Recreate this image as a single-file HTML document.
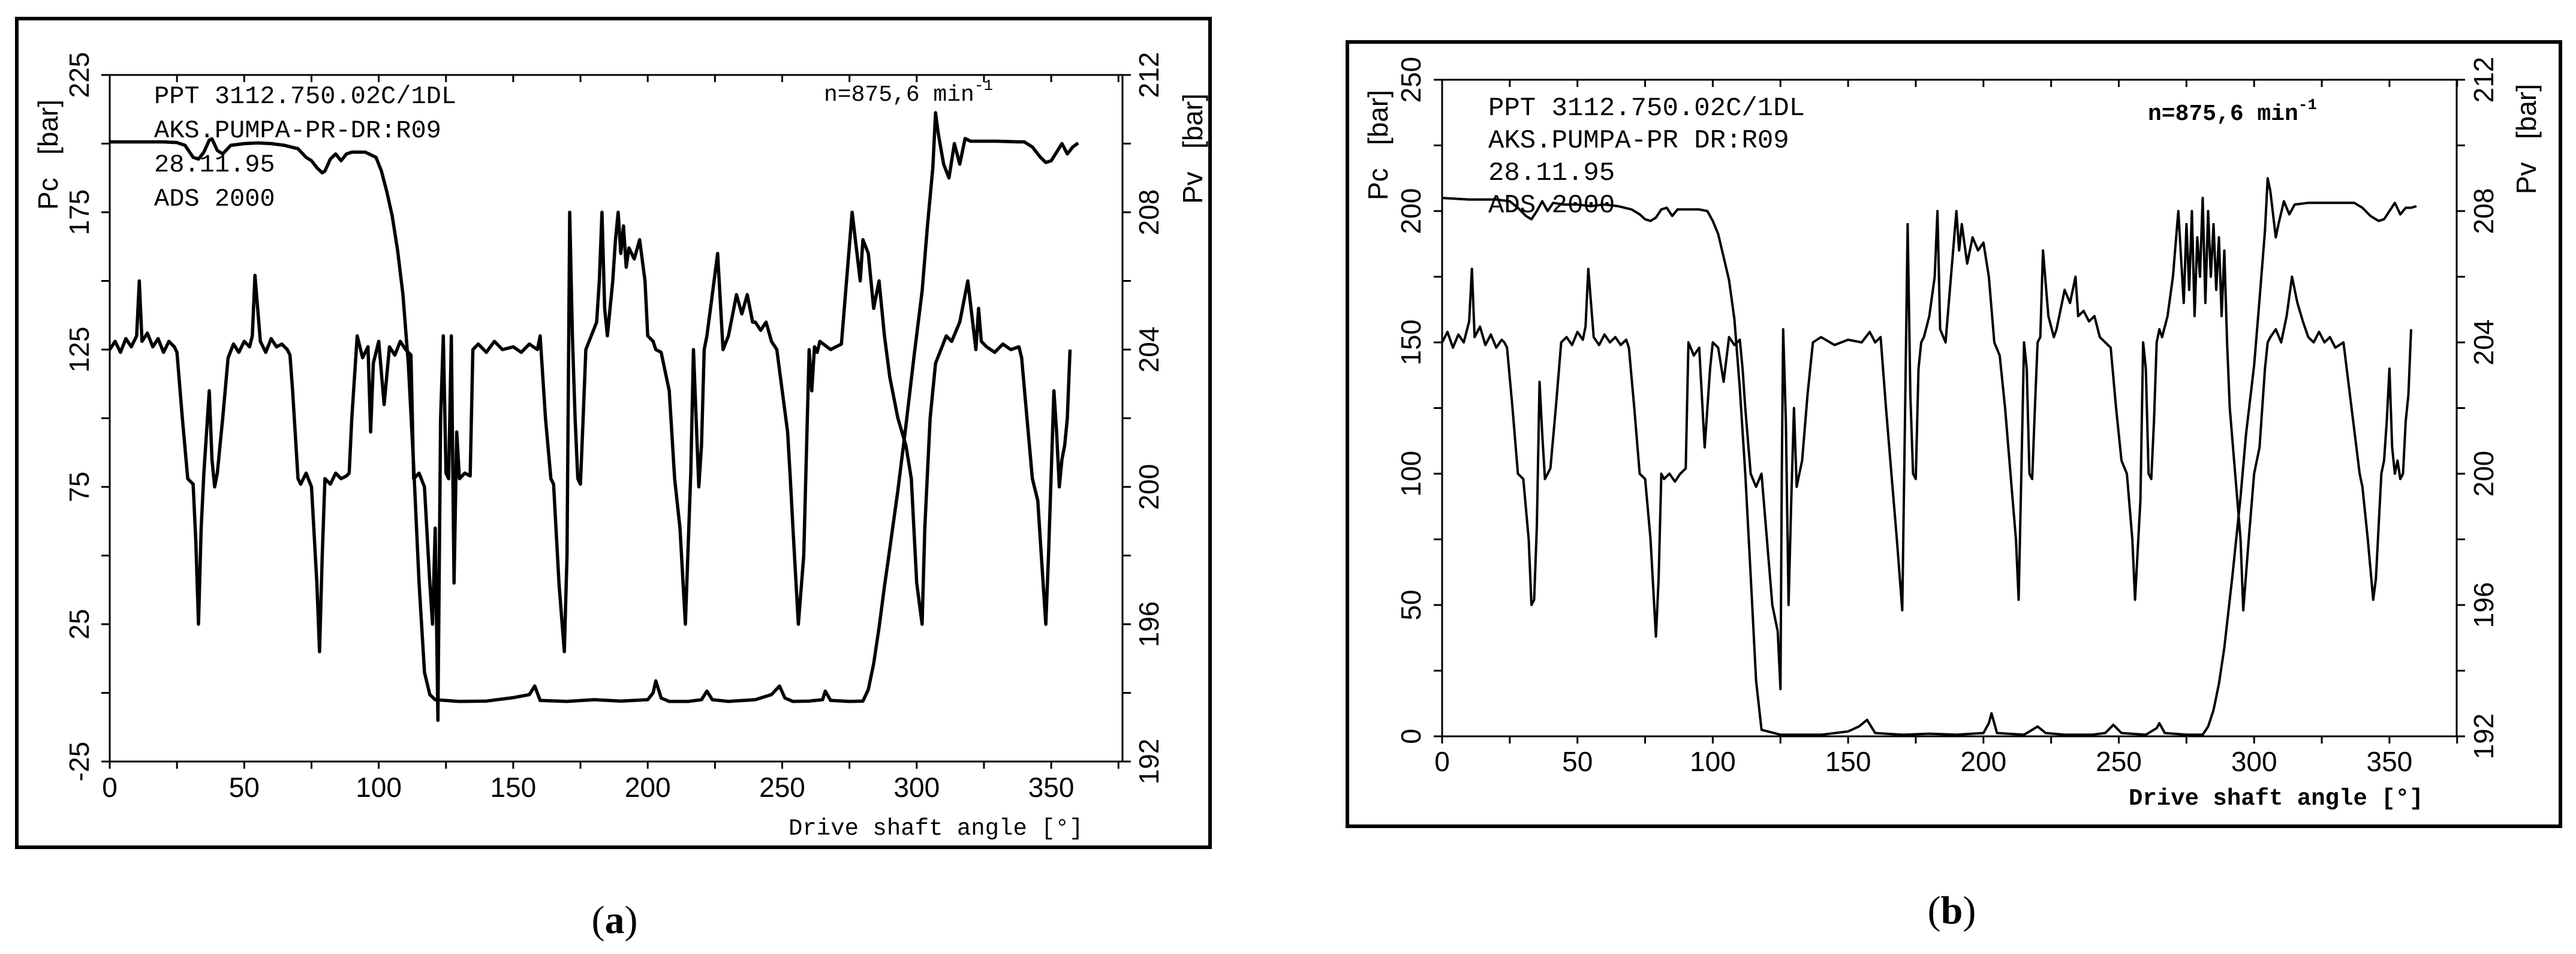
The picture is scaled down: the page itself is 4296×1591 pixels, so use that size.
<!DOCTYPE html>
<html><head><meta charset="utf-8"><title>Pc and Pv vs drive shaft angle</title>
<style>
html,body{margin:0;padding:0;background:#fff;}
svg{display:block;}
</style></head>
<body>
<svg id="fig" xmlns="http://www.w3.org/2000/svg" width="4296" height="1591" viewBox="0 0 4296 1591">
<rect x="0" y="0" width="4296" height="1591" fill="#fff"/>
</svg>
<script>
// ---- Panel (a) data ----
const aPcAngles = [0,2,4,6,8,10,11,12,14,16,18,20,22,24,25,27,29,31,32,33,34,35,36,37,38,39,40,42,44,46,48,50,52,53,54,56,58,60,62,64,66,67,68,70,71,73,75,77,78,79,80,82,84,86,88,89,90,92,94,96,97,98,100,102,104,106,108,110,112,113,115,117,119,120,121,122,123,124,125,126,127,128,129,130,132,134,135,137,140,143,146,150,153,156,159,160,162,164,165,167,169,170,171,172,173,174,175,176,177,179,181,182,183,184,185,186,187,188,189,190,191,192,193,195,197,199,200,202,203,205,208,210,212,214,216,217,218,219,220,221,222,224,226,228,230,232,233,235,237,239,240,242,244,246,248,250,252,253,254,256,258,260,261,262,263,264,268,272,276,279,280,282,284,286,288,290,293,296,298,300,302,303,304,305,307,309,311,313,316,319,322,323,324,326,329,332,335,338,339,341,343,345,347,348,349,350,351,352,353,354,355,356,357,358,359.5];
const aPcValues = [125,128,124,129,126,130,150,128,131,126,129,124,128,126,124,100,78,76,55,25,60,80,95,110,85,75,80,100,122,127,124,128,126,130,152,128,124,129,126,127,125,123,110,78,76,80,75,40,15,50,78,76,80,78,79,80,100,130,122,126,95,120,128,105,126,123,128,125,123,78,80,75,40,25,60,-10,100,130,80,78,130,40,95,78,80,79,125,127,124,128,125,126,124,127,125,130,100,78,76,40,15,50,175,130,100,78,76,100,125,130,135,150,175,140,130,140,150,165,175,160,170,155,162,158,165,150,130,128,125,124,110,78,60,25,80,125,100,75,90,125,130,145,160,125,130,140,145,138,145,135,135,132,135,128,125,110,95,78,60,25,50,125,110,126,124,128,125,127,175,150,165,160,140,150,130,115,100,90,78,40,25,60,80,100,120,125,130,128,135,150,125,140,128,126,124,127,125,126,122,100,78,70,40,25,50,80,110,95,75,85,90,100,125];
const aPvAngles = [0,10,20,25,28,31,33,35,37,38,40,42,45,50,55,60,65,70,73,75,77,79,80,82,84,86,88,90,95,99,101,103,105,107,109,111,113,115,117,119,121,130,140,150,156,158,160,170,180,190,200,202,203,205,208,215,220,222,224,230,240,246,249,251,254,260,265,266,268,275,280,282,284,286,288,290,293,296,299,302,304,306,307,308,310,312,314,316,318,320,330,338,340,343,346,348,350,352,354,356,358,360];
const aPvValues = [210.05,210.05,210.05,210.03,209.95,209.6,209.55,209.75,210.1,210.14,209.8,209.7,209.95,210.0,210.02,210.0,209.95,209.85,209.6,209.5,209.3,209.15,209.2,209.55,209.7,209.5,209.7,209.75,209.75,209.6,209.2,208.6,207.9,206.9,205.6,203.6,200.6,197.2,194.6,193.95,193.8,193.75,193.76,193.86,193.95,194.2,193.78,193.75,193.8,193.76,193.8,194.0,194.35,193.85,193.75,193.75,193.8,194.05,193.8,193.75,193.8,193.95,194.2,193.85,193.75,193.76,193.8,194.05,193.78,193.75,193.76,194.1,194.85,195.9,197.1,198.2,199.9,201.8,203.8,205.7,207.6,209.3,210.9,210.3,209.4,209.0,210.0,209.4,210.15,210.07,210.07,210.05,210.05,209.9,209.6,209.45,209.5,209.75,210.0,209.7,209.9,210.02];

// ---- Panel (b) data ----
const bPcAngles = [0,2,4,6,8,10,11,12,14,16,18,20,22,23,24,26,28,30,32,33,34,35,36,37,38,39,40,42,44,46,48,50,52,53,54,56,58,60,62,64,66,68,69,71,73,75,77,79,80,81,82,84,86,88,90,91,93,95,97,99,100,102,104,106,108,110,111,112,114,116,118,120,122,124,125,125.5,126,127,128,129,130,131,132,133,135,137,140,145,150,155,158,160,162,164,166,168,170,171,172,173,174,175,176,177,178,180,182,183,184,186,188,190,191,192,194,196,198,200,202,204,206,208,210,212,213,214,215,216,217,218,219,220,221,222,224,226,227,228,230,232,234,235,237,239,241,243,245,247,249,251,253,255,256,258,259,260,261,262,263,264,265,266,268,270,272,274,275,276,277,278,279,280,281,282,283,284,285,286,287,288,289,290,291,293,295,296,298,300,302,304,305,306,308,310,312,314,316,318,320,322,324,326,328,330,333,336,339,340,342,344,345,347,348,349,350,351,352,353,354,355,356,357,358,359,360];
const bPcValues = [150,154,148,153,150,158,178,152,156,149,153,148,151,150,148,125,100,98,75,50,52,80,135,115,98,100,102,125,150,152,149,154,151,156,178,152,149,153,150,152,149,151,148,125,100,98,75,38,60,100,98,100,97,100,102,150,145,148,110,140,150,148,135,152,149,151,140,125,100,95,100,75,50,40,18,100,155,120,50,90,125,95,100,105,130,150,152,149,151,150,154,150,152,125,100,75,48,120,195,130,100,98,140,150,152,160,175,200,155,150,175,200,185,195,180,190,185,188,175,150,145,125,100,75,52,100,150,140,100,98,125,150,152,185,160,152,155,160,170,165,175,160,162,158,160,152,150,148,125,105,100,75,52,90,150,140,100,98,120,150,155,152,160,175,200,165,195,170,200,160,190,175,205,165,200,175,195,170,190,160,185,150,125,100,75,48,75,100,110,140,150,152,155,150,160,175,165,158,152,150,154,150,152,148,150,125,100,95,75,52,60,100,105,120,140,110,100,105,98,100,120,130,155];
const bPvAngles = [0,10,20,25,28,31,33,35,37,39,41,45,50,55,60,65,70,73,75,77,79,81,83,85,87,89,92,95,98,100,102,104,106,108,110,112,114,116,118,125,140,150,154,157,160,170,180,190,200,202,203,205,215,218,220,223,230,240,245,248,251,260,264,265,267,275,281,283,285,287,289,292,295,297,300,302,304,305,306,308,309,311,313,315,320,330,337,340,343,346,348,350,352,354,356,358,360];
const bPvValues = [208.4,208.35,208.35,208.3,208.1,207.85,207.75,208.0,208.3,208.0,208.25,208.2,208.2,208.15,208.2,208.15,208.05,207.9,207.75,207.7,207.8,208.05,208.1,207.85,208.05,208.05,208.05,208.05,208.0,207.7,207.3,206.6,205.9,204.7,202.6,200.0,196.9,193.7,192.2,192.05,192.05,192.15,192.3,192.5,192.1,192.05,192.08,192.05,192.1,192.4,192.7,192.1,192.05,192.2,192.3,192.1,192.05,192.05,192.1,192.35,192.1,192.05,192.25,192.4,192.1,192.05,192.05,192.3,192.8,193.6,194.7,196.9,199.3,201.2,203.3,205.3,207.4,209.0,208.6,207.2,207.6,208.3,207.9,208.2,208.25,208.25,208.25,208.1,207.85,207.7,207.75,208.0,208.25,207.9,208.1,208.1,208.15];

// ---- Tick labels ----
const xTickLabels = ["0","50","100","150","200","250","300","350"];
const aPcTickLabels = ["-25","25","75","125","175","225"];
const bPcTickLabels = ["0","50","100","150","200","250"];
const pvTickLabels = ["192","196","200","204","208","212"];

const NS = "http://www.w3.org/2000/svg";
const svg = document.getElementById('fig');
function mk(tag, attrs, parent){
  const e = document.createElementNS(NS, tag);
  for (const k in attrs) e.setAttribute(k, attrs[k]);
  (parent||svg).appendChild(e);
  return e;
}

function drawPanel(P){
  const g = mk('g', {});
  
  
  const xS = d => P.x0 + d * P.pxPerDeg;
  const yPc = v => P.bottom - (v - P.pcMin) / (P.pcMax - P.pcMin) * (P.bottom - P.top);
  const yPv = v => P.bottom - (v - 192) / 20 * (P.bottom - P.top);

  const frame = mk('rect', {x:P.fx, y:P.fy, width:P.fw, height:P.fh, fill:'none', stroke:'#000', 'stroke-width':P.fsw}, g);
  
  

  const axes = mk('path', {d:`M${P.x0} ${P.top} H${P.xr} V${P.bottom} H${P.x0} Z`, fill:'none', stroke:'#000', 'stroke-width':P.asw}, g);
  
  

  let td = '';
  for (let d = 0; d <= 375; d += 25){
    const x = xS(d);
    if (x > P.xr + 1) break;
    td += `M${x} ${P.bottom} v12 M${x} ${P.top} v12 `;
  }
  for (let i = 0; i <= 10; i++){
    const y = P.top + i * (P.bottom - P.top) / 10;
    td += `M${P.x0} ${y} h-14 M${P.xr} ${y} h14 `;
  }
  const ticks = mk('path', {d:td, stroke:'#000', 'stroke-width':3, fill:'none'}, g);
  
  

  xTickLabels.forEach((t, i) => {
    const el = mk('text', {x:xS(i*50), y:P.xly, 'text-anchor':'middle', 'font-family':'Liberation Sans, sans-serif', 'font-size':46}, g);
    el.textContent = t;
    
    
  });
  P.pcLabels.forEach((t, i) => {
    const y = yPc(P.pcMin + i * P.pcStep);
    const el = mk('text', {x:0, y:0, 'text-anchor':'middle', 'dominant-baseline':'central', transform:`translate(${P.lly},${y}) rotate(-90)`, 'font-family':'Liberation Sans, sans-serif', 'font-size':46}, g);
    el.textContent = t;
    
    
  });
  pvTickLabels.forEach((t, i) => {
    const y = yPv(192 + i * 4);
    const el = mk('text', {x:0, y:0, 'text-anchor':'middle', 'dominant-baseline':'central', transform:`translate(${P.rly},${y}) rotate(-90)`, 'font-family':'Liberation Sans, sans-serif', 'font-size':46}, g);
    el.textContent = t;
    
    
  });
  const pcT = mk('text', {x:0, y:0, 'text-anchor':'middle', 'dominant-baseline':'central', transform:`translate(${P.pcTitle[0]},${P.pcTitle[1]}) rotate(-90)`, 'font-family':'Liberation Sans, sans-serif', 'font-size':46}, g);
  pcT.textContent = 'Pc\u00a0\u00a0\u00a0[bar]';
  
  
  const pvT = mk('text', {x:0, y:0, 'text-anchor':'middle', 'dominant-baseline':'central', transform:`translate(${P.pvTitle[0]},${P.pvTitle[1]}) rotate(-90)`, 'font-family':'Liberation Sans, sans-serif', 'font-size':46}, g);
  pvT.textContent = 'Pv\u00a0\u00a0\u00a0[bar]';
  
  

  const xT = mk('text', {x:P.xTitle[0], y:P.xTitle[1], 'font-family':'Liberation Mono, monospace', 'font-size':39, 'font-weight':P.bold?'bold':'normal'}, g);
  xT.textContent = 'Drive shaft angle [°]';
  
  

  const info = ['PPT 3112.750.02C/1DL', P.line2, '28.11.95', 'ADS 2000'];
  info.forEach((t, i) => {
    const el = mk('text', {x:P.info[0], y:P.info[1] + i*P.info[2], 'font-family':'Liberation Mono, monospace', 'font-size':P.info[3]}, g);
    el.textContent = t;
    
    
  });
  const nT = mk('text', {x:P.nPos[0], y:P.nPos[1], 'font-family':'Liberation Mono, monospace', 'font-size':38, 'font-weight':P.bold?'bold':'normal'}, g);
  nT.textContent = 'n=875,6 min';
  const sup = mk('tspan', {dy:-18, 'font-size':26}, nT);
  sup.textContent = '-1';
  
  

  const pcD = P.pcA.map((d, i) => (i ? 'L' : 'M') + xS(d).toFixed(1) + ' ' + yPc(P.pcV[i]).toFixed(1)).join(' ');
  const pc = mk('path', {d:pcD, fill:'none', stroke:'#000', 'stroke-width':P.lw, 'stroke-linejoin':'round'}, g);
  
  
  const pvD = P.pvA.map((d, i) => (i ? 'L' : 'M') + xS(d).toFixed(1) + ' ' + yPv(P.pvV[i]).toFixed(1)).join(' ');
  const pv = mk('path', {d:pvD, fill:'none', stroke:'#000', 'stroke-width':P.lw, 'stroke-linejoin':'round'}, g);
  
  

  const cap = mk('text', {x:P.cap[0], y:P.cap[1], 'text-anchor':'middle', 'font-family':'Liberation Serif, serif', 'font-size':66}, svg);
  cap.textContent = '(';
  const cb = mk('tspan', {'font-weight':'bold'}, cap); cb.textContent = P.id.slice(-1);
  const cc = mk('tspan', {}, cap); cc.textContent = ')';
  
  
}

drawPanel({id:'panel-a', x0:183, pxPerDeg:4.486, xr:1872, top:125, bottom:1270, pcMin:-25, pcMax:225, pcStep:50,
  pcLabels:aPcTickLabels, fx:28, fy:31, fw:1990, fh:1382, fsw:6, asw:3, xly:1329, lly:132, rly:1916,
  pcTitle:[80,258], pvTitle:[1989,248], xTitle:[1315,1392], bold:false,
  info:[257,172,57,42], line2:'AKS.PUMPA-PR-DR:R09', nPos:[1374,168], lw:5.5,
  pcA:aPcAngles, pcV:aPcValues, pvA:aPvAngles, pvV:aPvValues, cap:[1025,1556]});
drawPanel({id:'panel-b', x0:2405, pxPerDeg:4.514, xr:4097, top:133, bottom:1228, pcMin:0, pcMax:250, pcStep:50,
  pcLabels:bPcTickLabels, fx:2247, fy:70, fw:4270-2247, fh:1308, fsw:6, asw:3, xly:1286, lly:2353, rly:4142,
  pcTitle:[2298,242], pvTitle:[4213,232], xTitle:[3550,1342], bold:true,
  info:[2482,192,54,44], line2:'AKS.PUMPA-PR DR:R09', nPos:[3582,200], lw:4,
  pcA:bPcAngles, pcV:bPcValues, pvA:bPvAngles, pvV:bPvValues, cap:[3255,1540]});
</script>
</body></html>
